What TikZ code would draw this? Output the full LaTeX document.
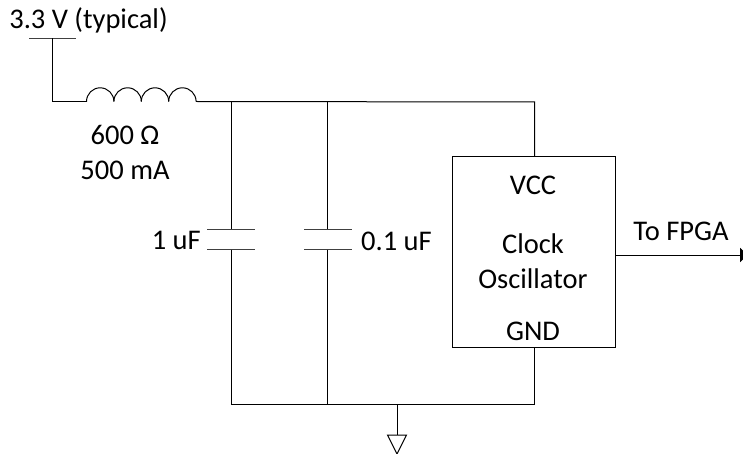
\documentclass[tikz,border=0pt]{standalone}
\usepackage{fontspec}
\setmainfont{Carlito}
\usetikzlibrary{arrows.meta}
\tikzset{
 wire/.style={line width=1pt},
 lbl/.style={font=\fontsize{28.5}{35}\selectfont,inner sep=0pt,align=center},
 plate/.style={line width=1pt,black!75}
}
\begin{document}
\begin{tikzpicture}[x=1pt,y=-1pt]
\useasboundingbox (0,0) rectangle (743,454);

\node[lbl] (vlabel) at (88.5,20) {3.3 V (typical)};
\node[lbl] (lval) at (125,152) {600 \symbol{"03A9}\\500 mA};
\node[lbl,anchor=east] (cla) at (201,240) {1 uF};
\node[lbl,anchor=west] (clb) at (361,241) {0.1 uF};
\node[lbl] (tofpga) at (681,231) {To FPGA};
%
\node[draw,line width=1pt,minimum width=163pt,minimum height=190pt,inner sep=0pt] (osc) at (533.5,252) {};
\node[lbl] (vcc) at (533,185) {VCC};
\node[lbl] (clk) at (533,261) {Clock\\Oscillator};
\node[lbl] (gnd) at (533,331) {GND};
%
\coordinate (vbar) at (52,38.5);
\coordinate (lin) at (86.5,101.5);
\coordinate (lout) at (196,101.5);
\coordinate (ja) at (231,102);
\coordinate (jb) at (327,102);
\coordinate (jc) at (534.5,102);
\coordinate (ka) at (231,404);
\coordinate (kb) at (327,404);
\coordinate (kg) at (397,404);
\coordinate (kc) at (534.5,404);
\coordinate (gndtop) at (397,435);
\coordinate (out) at (749,255);
% supply
\draw[plate] (29,38.5) -- (76,38.5);
\draw[wire] (vbar) -- (52,101.5) -- (lin);
\foreach \X in {0,1,2,3}
 {\draw[wire] (86.5+27.4*\X,101.5) arc (180:360:13.7);}
\draw[wire] (lout) -- (jc) -- (jc |- osc.north);
%
\foreach \X/\Y in {ja/207,jb/304}
 {\draw[wire] (\X) -- (\X |- 0,229.5);
  \draw[plate] (\Y,229.5) -- ++(47.5,0);
  \draw[plate] (\Y,249.5) -- ++(47.5,0);
  \draw[wire] (\X |- 0,249.5) -- (\X |- ka);}
%
\draw[wire] (ka) -- (kc) -- (jc |- osc.south);
\draw[wire] (kg) -- (gndtop);
\draw[wire] (387.5,435) -- (406.5,435) -- (397,454) -- cycle;
\draw[wire,-{Latex[length=9pt,width=15pt]}] (osc.east |- out) -- (out);
\end{tikzpicture}
\end{document}
